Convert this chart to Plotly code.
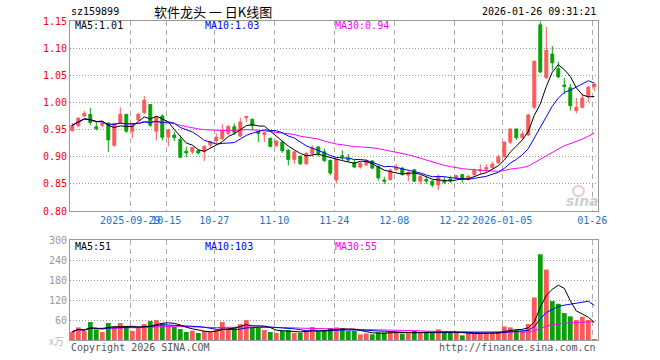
import plotly.graph_objects as go
import pandas as pd

dates = [
    "2025-09-15", "2025-09-16", "2025-09-17", "2025-09-18", "2025-09-19", "2025-09-22", "2025-09-23",
    "2025-09-24", "2025-09-25", "2025-09-26", "2025-09-29", "2025-09-30",
    "2025-10-09", "2025-10-10", "2025-10-13", "2025-10-14", "2025-10-15", "2025-10-16", "2025-10-17",
    "2025-10-20", "2025-10-21", "2025-10-22", "2025-10-23", "2025-10-24", "2025-10-27", "2025-10-28",
    "2025-10-29", "2025-10-30", "2025-10-31",
    "2025-11-03", "2025-11-04", "2025-11-05", "2025-11-06", "2025-11-07", "2025-11-10", "2025-11-11",
    "2025-11-12", "2025-11-13", "2025-11-14", "2025-11-17", "2025-11-18", "2025-11-19", "2025-11-20",
    "2025-11-21", "2025-11-24", "2025-11-25", "2025-11-26", "2025-11-27", "2025-11-28",
    "2025-12-01", "2025-12-02", "2025-12-03", "2025-12-04", "2025-12-05", "2025-12-08", "2025-12-09",
    "2025-12-10", "2025-12-11", "2025-12-12", "2025-12-15", "2025-12-16", "2025-12-17", "2025-12-18",
    "2025-12-19", "2025-12-22", "2025-12-23", "2025-12-24", "2025-12-25", "2025-12-26", "2025-12-29",
    "2025-12-30", "2025-12-31",
    "2026-01-05", "2026-01-06", "2026-01-07", "2026-01-08", "2026-01-09", "2026-01-12", "2026-01-13",
    "2026-01-14", "2026-01-15", "2026-01-16", "2026-01-19", "2026-01-20", "2026-01-21", "2026-01-22",
    "2026-01-23", "2026-01-26",
]

opens = [0.948, 0.957, 0.975, 0.978, 0.955, 0.958, 0.962, 0.921, 0.962, 0.978,
         0.947, 0.968, 0.981, 0.996, 0.947, 0.975, 0.936, 0.940, 0.932, 0.910,
         0.909, 0.911, 0.910, 0.922, 0.930, 0.933, 0.943, 0.955, 0.938, 0.972,
         0.969, 0.946, 0.941, 0.934, 0.920, 0.927, 0.912, 0.895, 0.901, 0.887,
         0.906, 0.918, 0.909, 0.893, 0.857, 0.902, 0.897, 0.889, 0.881, 0.885,
         0.892, 0.882, 0.857, 0.858, 0.876, 0.879, 0.866, 0.876, 0.855, 0.858,
         0.855, 0.848, 0.856, 0.859, 0.861, 0.867, 0.859, 0.867, 0.874, 0.877,
         0.880, 0.889, 0.900, 0.927, 0.951, 0.935, 0.940, 0.991, 1.143, 1.046,
         1.089, 1.062, 1.032, 1.027, 0.985, 0.991, 1.011, 1.029]
highs = [0.962, 0.972, 0.984, 0.990, 0.966, 0.963, 0.963, 0.962, 0.991, 0.979,
         0.961, 0.981, 1.012, 0.997, 0.975, 0.978, 0.951, 0.946, 0.939, 0.918,
         0.918, 0.913, 0.921, 0.929, 0.943, 0.960, 0.958, 0.961, 0.972, 0.975,
         0.970, 0.948, 0.946, 0.935, 0.930, 0.929, 0.914, 0.910, 0.902, 0.909,
         0.921, 0.920, 0.915, 0.895, 0.896, 0.912, 0.905, 0.894, 0.890, 0.895,
         0.894, 0.884, 0.863, 0.878, 0.887, 0.881, 0.873, 0.877, 0.865, 0.864,
         0.857, 0.867, 0.863, 0.865, 0.867, 0.868, 0.866, 0.878, 0.886, 0.886,
         0.891, 0.904, 0.928, 0.952, 0.952, 0.948, 0.979, 1.077, 1.149, 1.139,
         1.104, 1.075, 1.045, 1.034, 1.008, 1.016, 1.030, 1.035]
lows = [0.946, 0.955, 0.974, 0.958, 0.948, 0.955, 0.9085, 0.919, 0.960, 0.944,
        0.934, 0.966, 0.979, 0.955, 0.930, 0.930, 0.919, 0.929, 0.898, 0.899,
        0.905, 0.904, 0.892, 0.917, 0.924, 0.931, 0.940, 0.940, 0.936, 0.964,
        0.949, 0.927, 0.927, 0.917, 0.918, 0.907, 0.884, 0.887, 0.885, 0.885,
        0.900, 0.900, 0.890, 0.866, 0.851, 0.894, 0.890, 0.879, 0.878, 0.883,
        0.877, 0.856, 0.850, 0.856, 0.875, 0.865, 0.855, 0.853, 0.849, 0.850,
        0.844, 0.839, 0.850, 0.852, 0.859, 0.852, 0.856, 0.865, 0.868, 0.871,
        0.878, 0.887, 0.898, 0.923, 0.931, 0.933, 0.938, 0.988, 1.054, 1.043,
        1.059, 1.045, 1.015, 0.985, 0.980, 0.989, 1.001, 1.021]
closes = [0.958, 0.971, 0.980, 0.963, 0.952, 0.962, 0.931, 0.961, 0.978, 0.947,
          0.960, 0.978, 1.004, 0.958, 0.973, 0.936, 0.949, 0.935, 0.899, 0.907,
          0.917, 0.907, 0.919, 0.928, 0.936, 0.947, 0.956, 0.945, 0.964, 0.974,
          0.957, 0.943, 0.944, 0.919, 0.929, 0.911, 0.895, 0.909, 0.887, 0.906,
          0.916, 0.906, 0.893, 0.870, 0.895, 0.900, 0.894, 0.881, 0.888, 0.893,
          0.879, 0.861, 0.855, 0.875, 0.880, 0.868, 0.871, 0.855, 0.864, 0.855,
          0.848, 0.864, 0.853, 0.856, 0.865, 0.858, 0.864, 0.875, 0.876, 0.880,
          0.886, 0.899, 0.927, 0.951, 0.935, 0.942, 0.977, 1.076, 1.056, 1.096,
          1.073, 1.047, 1.030, 0.994, 0.991, 1.008, 1.028, 1.034]
volumes = [25, 38, 27, 54, 32, 24, 51, 40, 51, 38,
           27, 37, 48, 57, 60, 50, 44, 40, 33, 24,
           28, 21, 27, 24, 32, 54, 32, 37, 48, 60,
           37, 36, 30, 24, 21, 28, 30, 21, 22, 27,
           39, 26, 28, 36, 38, 36, 27, 27, 17, 20,
           17, 23, 23, 27, 22, 19, 21, 27, 22, 22,
           22, 32, 22, 21, 21, 14, 21, 21, 21, 21,
           21, 25, 41, 38, 30, 27, 48, 128, 258, 212,
           117, 109, 81, 71, 60, 70, 60, 3]

tick_dates = ["2025-09-29", "2025-10-15", "2025-10-27", "2025-11-10", "2025-11-24",
              "2025-12-08", "2025-12-22", "2026-01-05", "2026-01-26"]
tick_labels = ["2025-09-29", "10-15", "10-27", "11-10", "11-24",
               "12-08", "12-22", "2026-01-05", "01-26"]
price_ticks = [0.80, 0.85, 0.90, 0.95, 1.00, 1.05, 1.10, 1.15]
vol_ticks = [60, 120, 180, 240, 300]

RED = "#ff5858"
GREEN = "#0aa00a"

idx = list(range(len(dates)))
cs = pd.Series(closes)
vs = pd.Series(volumes)
ma5 = cs.rolling(5, min_periods=1).mean()
ma10 = cs.rolling(10, min_periods=1).mean()
ma30 = cs.rolling(30, min_periods=1).mean()
vma5 = vs.rolling(5, min_periods=1).mean()
vma10 = vs.rolling(10, min_periods=1).mean()
vma30 = vs.rolling(30, min_periods=1).mean()
vcolors = [RED if c >= o else GREEN for o, c in zip(opens, closes)]

tickpos = [dates.index(d) - 0.35 for d in tick_dates]

fig = go.Figure()
fig.add_trace(go.Candlestick(
    x=idx, open=opens, high=highs, low=lows, close=closes,
    increasing=dict(line=dict(color=RED, width=1), fillcolor=RED),
    decreasing=dict(line=dict(color=GREEN, width=1), fillcolor=GREEN),
    whiskerwidth=0, xaxis="x", yaxis="y", showlegend=False, hoverinfo="skip"))
for s, col in [(ma30, "#ff00ff"), (ma10, "#0000ff"), (ma5, "#000000")]:
    fig.add_trace(go.Scatter(x=idx, y=s, mode="lines", line=dict(color=col, width=1),
                             xaxis="x", yaxis="y", showlegend=False, hoverinfo="skip"))
fig.add_trace(go.Bar(x=idx, y=volumes, marker=dict(color=vcolors, line=dict(width=0)),
                     width=0.8, xaxis="x2", yaxis="y2", showlegend=False, hoverinfo="skip"))
for s, col in [(vma30, "#ff00ff"), (vma10, "#0000ff"), (vma5, "#000000")]:
    fig.add_trace(go.Scatter(x=idx, y=s, mode="lines", line=dict(color=col, width=1),
                             xaxis="x2", yaxis="y2", showlegend=False, hoverinfo="skip"))

L, R, T, B = 70, 598, 21, 340
PW, PH = R - L, B - T


def px(x):
    return (x - L) / PW


def py(y):
    return (B - y) / PH


xr = [-0.383, 87.617]
mono = "DejaVu Sans Mono"
common_x = dict(range=xr, tickmode="array", tickvals=tickpos, showgrid=True,
                gridcolor="#aaaaaa", griddash="5px,4px", gridwidth=1, zeroline=False,
                showline=True, linecolor="#999999", linewidth=1, mirror=True,
                ticks="", fixedrange=True)

fig.update_layout(
    width=660, height=360,
    margin=dict(l=L, r=660 - R, t=T, b=360 - B),
    paper_bgcolor="white", plot_bgcolor="white",
    font=dict(family=mono, size=10, color="#000"),
    bargap=0.2,
    xaxis=dict(**common_x, anchor="y", ticktext=tick_labels, showticklabels=True,
               tickangle=0, tickfont=dict(color="#1874cd", size=10, family=mono),
               rangeslider=dict(visible=False), domain=[0, 1]),
    yaxis=dict(domain=[py(211), 1], range=[0.80, 1.15], tickmode="array",
               tickvals=price_ticks, tickformat=".2f",
               tickfont=dict(color="#ff0000", size=10, family=mono),
               showgrid=True, gridcolor="#999999", griddash="1px,2px", gridwidth=1,
               zeroline=False, showline=True, linecolor="#999999", linewidth=1,
               mirror=True, ticks="", fixedrange=True, anchor="x"),
    xaxis2=dict(**common_x, anchor="y2", ticktext=["" for _ in tickpos],
                showticklabels=False, domain=[0, 1]),
    yaxis2=dict(domain=[0, py(240.3)], range=[0, 300], tickmode="array",
                tickvals=vol_ticks, tickfont=dict(color="#999999", size=10, family=mono),
                showgrid=True, gridcolor="#999999", griddash="1px,2px", gridwidth=1,
                zeroline=False, showline=True, linecolor="#999999", linewidth=1,
                mirror=True, ticks="", fixedrange=True, anchor="x2"),
)


def label(text, x, y, color="#000", size=10, xanchor="left", family=mono, **kw):
    fig.add_annotation(text=text, x=px(x), y=py(y), xref="paper", yref="paper",
                       showarrow=False, xanchor=xanchor, yanchor="middle",
                       font=dict(color=color, size=size, family=family),
                       **kw)


label("sz159899", 69, 12)
label("软件龙头 一 日K线图", 213, 12, size=13, xanchor="center",
      family="Noto Sans CJK SC")
label("2026-01-26 09:31:21", 598, 12, xanchor="right")
label("MA5:1.01", 73, 26)
label("MA10:1.03", 203, 26, color="#0000ff")
label("MA30:0.94", 333, 26, color="#ff00ff")
label("MA5:51", 73, 246)
label("MA10:103", 203, 246, color="#0000ff")
label("MA30:55", 333, 246, color="#ff00ff")
label("x万", 66, 340, color="#bbbbbb", size=10, xanchor="right",
      family="Noto Sans CJK SC")
label("Copyright 2026 SINA.COM", 69, 347, color="#555555")
label("http://finance.sina.com.cn", 598, 347, color="#555555", xanchor="right")
label("<b><i>sina</i></b>", 582, 201, color="#d0d0d0", size=14, xanchor="center",
      family="DejaVu Sans")
fig.add_shape(type="circle", xref="paper", yref="paper",
              x0=px(573), x1=px(584), y0=py(196), y1=py(186),
              line=dict(color="#f0c8c8", width=2), fillcolor="rgba(0,0,0,0)")

fig.write_html("out.html", config={"displayModeBar": False, "staticPlot": True})
